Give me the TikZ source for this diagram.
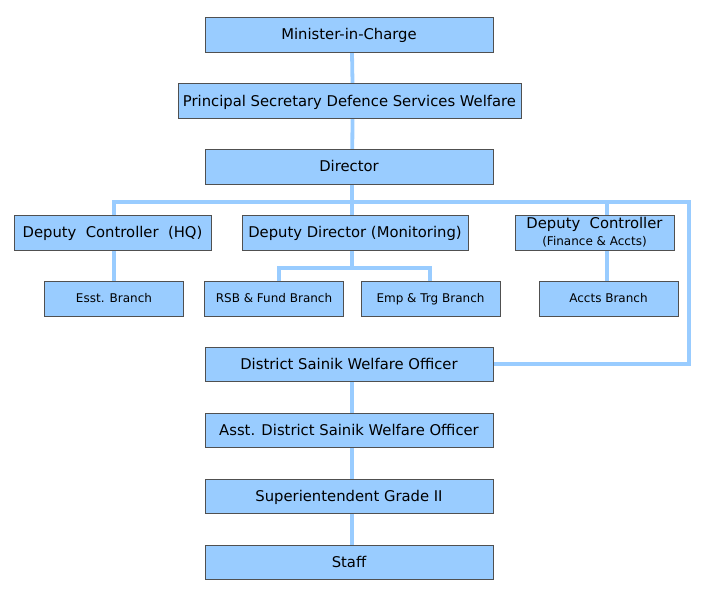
\documentclass[tikz,border=0pt]{standalone}
\usepackage{fontspec}
\setmainfont{DejaVu Sans}
\usetikzlibrary{backgrounds}
\definecolor{boxblue}{HTML}{99CCFF}
\definecolor{boxedge}{HTML}{505050}
\begin{document}
\begin{tikzpicture}[x=1pt,y=-1pt,
  box/.style={draw=boxedge, line width=1pt, fill=boxblue, inner sep=0pt,
    minimum height=35pt, font=\fontsize{14.8}{16}\selectfont,
    text height=10.8pt, text depth=0pt},
  wide/.style={box, minimum width=288pt},
  small/.style={box, minimum width=139pt, font=\fontsize{12}{13}\selectfont,
    text height=8.8pt},
  conn/.style={draw=boxblue, line width=3.8pt}]
\useasboundingbox (0,0) rectangle (710,590);
\node[wide] (min) at (349,34.5) {Minister-in-Charge};
\node[box, minimum width=343pt] (psec) at (349.5,101) {Principal Secretary Defence Services Welfare};
\node[wide] (dir) at (349,166.5) {Director};
\node[box, minimum width=197pt] (hq) at (112.5,232.5) {Deputy\ \ Controller\ \ (HQ)};
\node[box, minimum width=226pt] (dd) at (355,232.5) {Deputy Director (Monitoring)};
\node[box, minimum width=159pt, align=center, text height=, text depth=] (fin) at (594.5,232.5)
  {Deputy\ \ Controller\\[1pt]{\fontsize{12}{13}\selectfont (Finance \& Accts)}};
\node[small] (esst) at (114,298.5) {Esst. Branch};
\node[small] (rsb) at (274,298.5) {RSB \& Fund Branch};
\node[small] (emp) at (430.5,298.5) {Emp \& Trg Branch};
\node[small] (accts) at (608.5,298.5) {Accts Branch};
\node[wide, minimum height=34pt] (dswo) at (349,364) {District Sainik Welfare Officer};
\node[wide, minimum height=34pt] (adswo) at (349,430) {Asst. District Sainik Welfare Officer};
\node[wide, minimum height=34pt] (sup) at (349,496) {Superientendent Grade II};
\node[wide, minimum height=34pt] (staff) at (349,562) {Staff};
\coordinate (hr) at (689,202);
\coordinate (bj) at (352,268);
\begin{scope}[on background layer]
\draw[conn] ([xshift=3pt]min.south) -- ([xshift=3pt]psec.north);
\draw[conn] ([xshift=3pt]psec.south) -- ([xshift=3pt]dir.south);
\draw[conn] ([xshift=3pt]dir.south) -- (bj);
\draw[conn] (esst.north) |- (hr) |- (dswo.east);
\draw[conn] ([xshift=-1.5pt]accts.north) -- ([xshift=-1.5pt]accts.north |- hr);
\draw[conn] ([xshift=5pt]rsb.north) |- (bj) -| ([xshift=-0.5pt]emp.north);
\draw[conn] ([xshift=3pt]dswo.south) -- ([xshift=3pt]adswo.north);
\draw[conn] ([xshift=3pt]adswo.south) -- ([xshift=3pt]sup.north);
\draw[conn] ([xshift=3pt]sup.south) -- ([xshift=3pt]staff.north);
\end{scope}
\end{tikzpicture}
\end{document}
